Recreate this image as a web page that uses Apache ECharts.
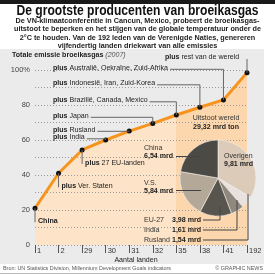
<!DOCTYPE html>
<html><head><meta charset="utf-8">
<script src="https://cdn.jsdelivr.net/npm/echarts@6/dist/echarts.min.js"></script>
<style>html,body{margin:0;padding:0;background:#fff}#c{width:275px;height:275px}</style>
</head><body><div id="c"></div>
<script>
// ---- data ----
const categories = ['1','2','29','30','31','32','35','38','41','192'];
const cumulativeShare = [21, 41, 54.3, 60, 65.1, 69.5, 74.3, 78.7, 82.9, 98.5];
const stepLabels = ['China','Ver. Staten','27 EU-landen','India','Rusland','Japan','Brazilië, Canada, Mexico','Indonesië, Iran, Zuid-Korea','Australië, Oekraïne, Zuid-Afrika','rest van de wereld'];
const pieNames = ['Overigen','Rusland','India','EU-27','V.S.','China'];
const pieValues = [9.81, 1.54, 1.61, 3.98, 5.84, 6.54];
const pieValueLabels = ['9,81 mrd','1,54 mrd','1,61 mrd','3,98 mrd','5,84 mrd','6,54 mrd'];
const worldTotalLabel = '29,32 mrd ton';
const yTickLabels = {100:'100%', 80:'80', 60:'60', 40:'40', 20:'20', 0:'0'};
const titleText = 'De grootste producenten van broeikasgas';
const subtitleLines = [
  'De VN-klimaatconferentie in Cancun, Mexico, probeert de broeikasgas-',
  'uitstoot te beperken en het stijgen van de globale temperatuur onder de',
  '2°C te houden. Van de 192 leden van de Verenigde Naties, genereren',
  'vijfendertig landen driekwart van alle emissies'
];

// ---- helpers ----
const FONT = '"Liberation Sans", Arial, sans-serif';
const cv = document.createElement('canvas').getContext('2d');
function mw(t, f){ cv.font = f; return cv.measureText(t).width; }
const titleFont = 'bold 15px ' + FONT;
const subFont = 'bold 8px ' + FONT;
const bFont = 'bold 8px ' + FONT;
const nFont = '8px ' + FONT;
const titleSX = 242 / mw(titleText, titleFont);
const subSX = 247 / mw(subtitleLines[1], subFont);
const SC = 115 / (mw('plus ', bFont) + mw(stepLabels[8], nFont));
function plusWidth(t){ return (mw('plus ', bFont) + mw(t, nFont)) * SC; }

function T(x, y, text, o){
  o = o || {};
  const al = o.align || 'left';
  const st = {text: text, font: o.font || nFont, fill: o.fill || '#222',
    align: al, textAlign: al, verticalAlign: 'middle', textVerticalAlign: 'middle'};
  if (o.rich) st.rich = o.rich;
  return {type:'text', x:x, y:y, scaleX: o.sx || SC, z: 100, style: st};
}
function L(pts, color){
  return {type:'polyline', z: 90, shape:{points: pts}, style:{stroke: color || '#666', lineWidth: 1, fill: null}};
}
const richPlus = {b:{font: bFont, fill:'#222'}, n:{font: nFont, fill:'#222'}};

const chart = echarts.init(document.getElementById('c'), null, {renderer:'canvas'});
const grad = new echarts.graphic.LinearGradient(0,0,1,0,[
  {offset:0, color:'#fde4c8'},{offset:0.667, color:'#fde4c8'},
  {offset:0.667, color:'#fcd7ae'},{offset:1, color:'#fcd7ae'}]);

chart.setOption({
  animation: false,
  backgroundColor: '#ffffff',
  grid: {left: 35, right: 28, top: 70, bottom: 30},
  xAxis: {type:'category', data: categories, boundaryGap: false, z: 2,
    axisLine:{show:false},
    axisTick:{show:true, length:8, lineStyle:{color:'#555', width:1}},
    axisLabel:{fontSize:7.5, color:'#333', align:'left', padding:[0,0,0,2], margin:2, fontFamily:'Liberation Sans'},
    splitLine:{show:false}},
  yAxis: {type:'value', min:0, max:100, interval:10, z: 2,
    axisLine:{show:false}, axisTick:{show:false},
    axisLabel:{fontSize:7.5, color:'#444', margin:5, fontFamily:'Liberation Sans',
      formatter: v => (yTickLabels[v] !== undefined ? yTickLabels[v] : '')},
    splitLine:{show:true, lineStyle:{color:'#9a9a9a', type:[1,2], width:1}}},
  series: [
    {type:'line', data: cumulativeShare, z: 1, symbol:'none', silent:true,
      lineStyle:{width:0}, areaStyle:{color: grad, opacity:1}},
    {type:'line', data: cumulativeShare, z: 3, symbol:'circle', symbolSize:5,
      itemStyle:{color:'#111'}, lineStyle:{color:'#f7941d', width:3}},
    {type:'pie', z: 5, center:[218,178], radius: 38, startAngle: 90, clockwise: true,
      label:{show:false}, labelLine:{show:false}, silent:true,
      itemStyle:{borderColor:'#f4efe9', borderWidth:0.6},
      data: pieNames.map((n,i)=>({name:n, value:pieValues[i],
        itemStyle:{color:['#dccbb9','#e7e2dd','#8f887e','#57554e','#b4a898','#4b4a45'][i]}}))}
  ]
});

// ---- annotations built from library coordinates ----
const P = cumulativeShare.map((v,i)=>chart.convertToPixel({seriesIndex:1}, [i, v]));
const g = [];
g.push({type:'rect', z:-5, shape:{x:0,y:49,width:264,height:215}, style:{fill:'#ebebeb'}});
g.push({type:'rect', z:-5, shape:{x:0,y:0,width:275,height:4}, style:{fill:'#1a1a1a'}});
g.push({type:'rect', z:-5, shape:{x:0,y:273,width:275,height:1}, style:{fill:'#bbbbbb'}});
g.push(T(137.5, 11, titleText, {font:titleFont, align:'center', sx:titleSX, fill:'#111'}));
subtitleLines.forEach((s,i)=>g.push(T(137.5, 21+i*8.2, s, {font:subFont, align:'center', sx:subSX, fill:'#222'})));
g.push(T(12, 55, '{b|Totale emissie broeikasgas} {i|(2007)}', {rich:{b:{font:bFont, fill:'#222'}, i:{font:'italic 8px '+FONT, fill:'#555'}}}));

// below-type labels (China, V.S., EU)
[0,1,2].forEach(i=>{
  const p = P[i];
  g.push(L([[p[0], p[1]], [p[0], p[1]+14]], '#666'));
  const txt = i===0 ? '{b|China}' : '{b|plus} {n|' + stepLabels[i] + '}';
  g.push(T(p[0]+3, p[1]+12.5, txt, {rich: richPlus}));
});
// left-type labels with elbow connectors
const leftY = {3:137, 4:129.5, 5:115.5, 6:100, 7:83, 8:67.5};
[3,4,5,6,7,8].forEach(i=>{
  const p = P[i], ty = leftY[i], ly = ty + 1.8;
  g.push(T(53, ty, '{b|plus} {n|' + stepLabels[i] + '}', {rich: richPlus}));
  const x0 = 53 + plusWidth(stepLabels[i]) + 2;
  g.push(L([[x0, ly], [p[0], ly], [p[0], p[1]]], '#666'));
});
// rest of world
g.push(T(165, 57, '{b|plus} {n|' + stepLabels[9] + '}', {rich: richPlus}));
g.push(L([[P[9][0], 59], [P[9][0], P[9][1]]], '#666'));

// pie labels
g.push(T(216, 118, 'Uitstoot wereld', {align:'center', fill:'#333'}));
g.push(T(216, 127, worldTotalLabel, {align:'center', font:bFont}));
g.push(T(144, 147.5, pieNames[5], {fill:'#333'}));
g.push(T(144, 156, pieValueLabels[5], {font:bFont}));
g.push(L([[176,156.5],[201,156.5]], '#444'));
g.push(T(144, 182.5, pieNames[4], {fill:'#333'}));
g.push(T(144, 190.5, pieValueLabels[4], {font:bFont}));
g.push(L([[176,190.5],[201,190.5]], '#444'));
g.push(T(224, 155.5, pieNames[0], {fill:'#333'}));
g.push(T(224, 164, pieValueLabels[0], {font:bFont}));
[[3,219.5,220,207],[2,229.5,237,200],[1,239.5,248,194]].forEach(r=>{
  const k=r[0], y=r[1];
  g.push(T(144, y, pieNames[k], {fill:'#333'}));
  g.push(T(201, y, pieValueLabels[k], {font:bFont, align:'right'}));
  g.push(L([[203,y+0.5],[r[2],y+0.5],[r[2],r[3]]], '#444'));
});

// axis name and footer
g.push(T(136, 260, 'Aantal landen', {align:'center', fill:'#222'}));
g.push(T(3, 268, 'Bron: UN Statistics Division, Millennium Development Goals indicators', {font:'6px '+FONT, fill:'#555', sx:0.9}));
g.push(T(263, 268, '© GRAPHIC NEWS', {font:'6px '+FONT, fill:'#555', align:'right', sx:0.9}));

chart.setOption({graphic: {elements: g}});
</script></body></html>
